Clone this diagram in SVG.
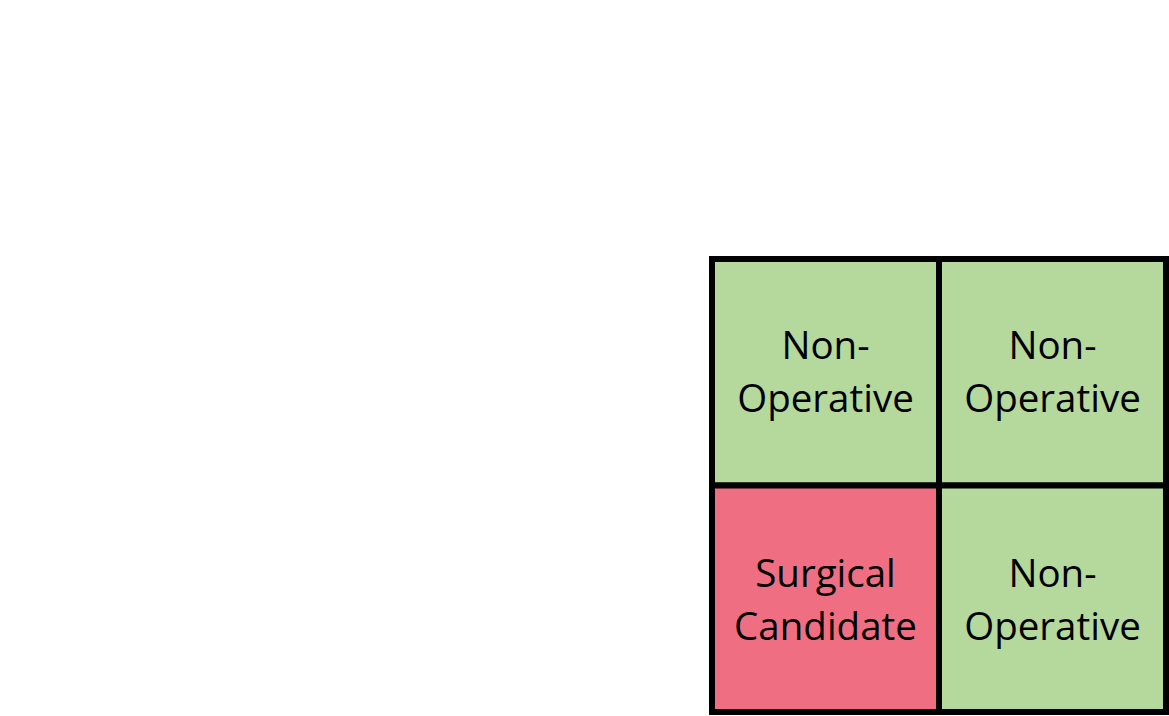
<svg xmlns="http://www.w3.org/2000/svg" width="1169" height="716" viewBox="0 0 1169 716">
<style>
.cell{stroke:#000;stroke-width:6}
.g{fill:#B5D99C}
.r{fill:#F06E81}
text{font-family:"Open Sans","Noto Sans",sans-serif;font-size:38.5px;fill:#000;text-anchor:middle}
</style>
<rect width="1169" height="716" fill="#FFFFFF"/>
<g id="cell-top-left"><rect class="cell g" x="712" y="259" width="227" height="226.5"/><text x="825.5" y="359">Non-</text><text x="825.5" y="412">Operative</text></g>
<g id="cell-top-right"><rect class="cell g" x="939" y="259" width="227" height="226.5"/><text x="1052.5" y="359">Non-</text><text x="1052.5" y="412">Operative</text></g>
<g id="cell-bottom-left"><rect class="cell r" x="712" y="485.5" width="227" height="226.5"/><text x="825.5" y="587">Surgical</text><text x="825.5" y="640">Candidate</text></g>
<g id="cell-bottom-right"><rect class="cell g" x="939" y="485.5" width="227" height="226.5"/><text x="1052.5" y="587">Non-</text><text x="1052.5" y="640">Operative</text></g>
<g id="connectors"></g>
</svg>
